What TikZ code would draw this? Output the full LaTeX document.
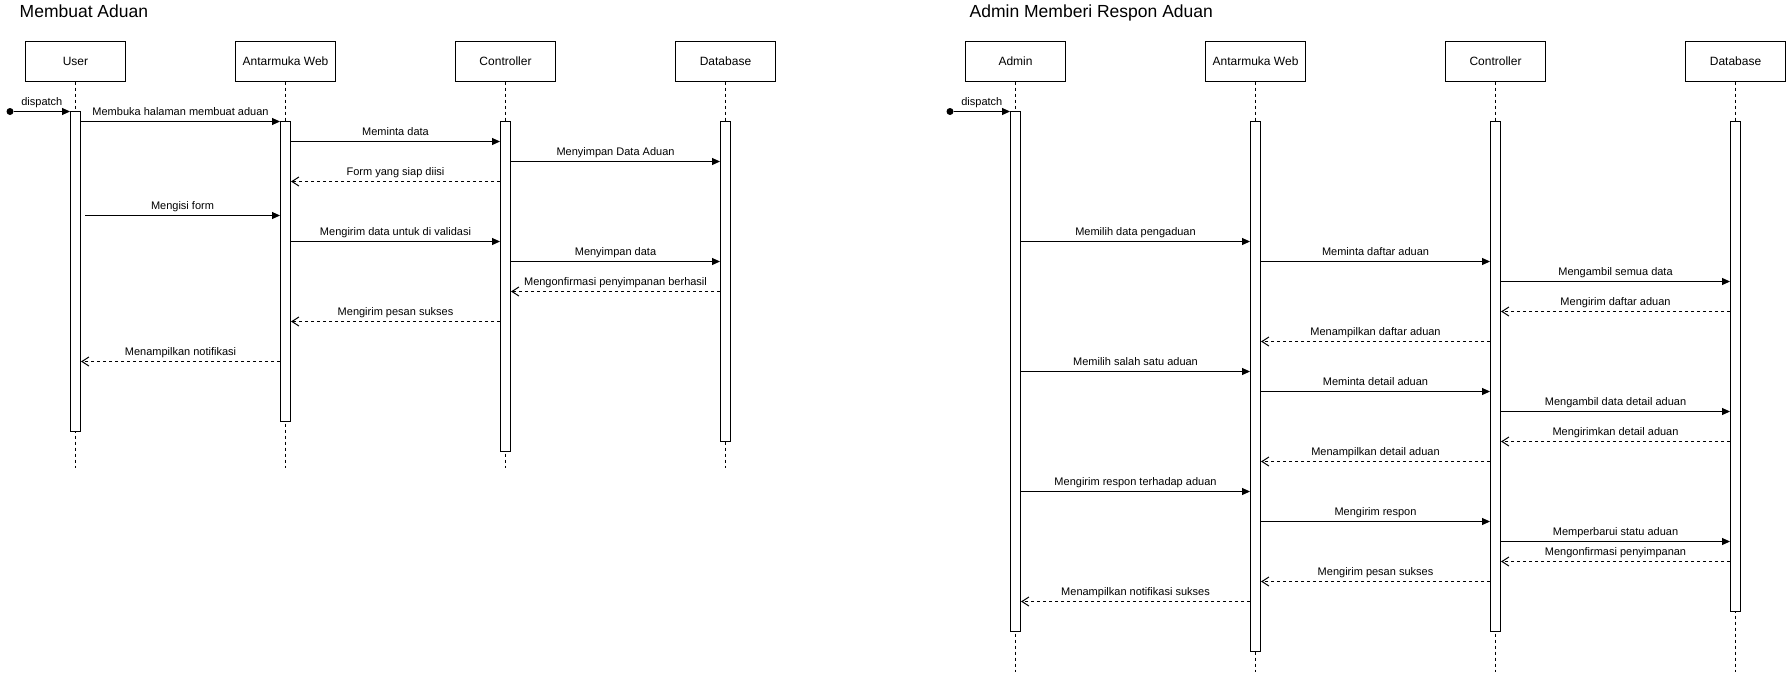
\documentclass[tikz,border=0pt]{standalone}
\usepackage{fontspec}
\setmainfont{Liberation Sans}
\usetikzlibrary{arrows.meta,positioning}
\tikzset{lifebox/.style={draw,line width=1pt,minimum width=100pt,minimum height=40pt,inner sep=0pt,font=\fontsize{12}{14}\selectfont}}
\tikzset{act/.style={draw,fill=white,line width=1pt,minimum width=10pt,inner sep=0pt,anchor=north}}
\tikzset{life/.style={draw,line width=1pt,dash pattern=on 3pt off 3pt}}
\tikzset{call/.style={draw,line width=1pt,-{Triangle[length=8pt,width=7pt]}}}
\tikzset{reply/.style={draw,line width=1pt,dash pattern=on 3pt off 3pt,-{Straight Barb[length=7pt,width=9pt]}}}
\tikzset{lbl/.style={midway,anchor=base,yshift=6pt,inner sep=0pt,font=\fontsize{11}{13}\selectfont}}
\tikzset{dot/.style={circle,fill,inner sep=0pt,minimum size=7pt}}
\tikzset{title/.style={anchor=base west,inner sep=0pt,font=\fontsize{17.5}{20}\selectfont}}

\begin{document}
\begin{tikzpicture}[x=1pt,y=-1pt]
    \useasboundingbox (0,0) rectangle (1787,672);

    % Membuat Aduan
    \node[title] (t1) at (19.5,17.5) {Membuat Aduan};
    \node[lifebox] at (75.5,61) (user) {User};
    \node[lifebox,right of=user,node distance=210pt] (web1) {Antarmuka Web};
    \node[lifebox,right of=web1,node distance=220pt] (ctrl1) {Controller};
    \node[lifebox,right of=ctrl1,node distance=220pt] (db1) {Database};

    \coordinate (userEnd) at (user |- 0,468);
    \coordinate (web1End) at (web1 |- 0,468);
    \coordinate (ctrl1End) at (ctrl1 |- 0,468);
    \coordinate (db1End) at (db1 |- 0,468);
        \path[life] (user) -- (userEnd);
        \path[life] (web1) -- (web1End);
        \path[life] (ctrl1) -- (ctrl1End);
        \path[life] (db1) -- (db1End);

    \node[act,minimum height=320pt] (userAct) at (user |- 0,111) {};
    \node[act,minimum height=300pt] (web1Act) at (web1 |- 0,121) {};
    \node[act,minimum height=330pt] (ctrl1Act) at (ctrl1 |- 0,121) {};
    \node[act,minimum height=320pt] (db1Act) at (db1 |- 0,121) {};

    \node[dot] (d1) at (10,111.5) {};
    \coordinate (formStart) at (85,215.5);

        \path[call] (d1) -- node[lbl] {dispatch} (d1 -| userAct.west);
        \path[call] (userAct.east |- 0,121.5) -- node[lbl] {Membuka halaman membuat aduan} (web1Act.west |- 0,121.5);
        \path[call] (web1Act.east |- 0,141.5) -- node[lbl] {Meminta data} (ctrl1Act.west |- 0,141.5);
        \path[call] (ctrl1Act.east |- 0,161.5) -- node[lbl] {Menyimpan Data Aduan} (db1Act.west |- 0,161.5);
        \path[reply] (ctrl1Act.west |- 0,181.5) -- node[lbl] {Form yang siap diisi} (web1Act.east |- 0,181.5);
        \path[call] (formStart) -- node[lbl] {Mengisi form} (formStart -| web1Act.west);
        \path[call] (web1Act.east |- 0,241.5) -- node[lbl] {Mengirim data untuk di validasi} (ctrl1Act.west |- 0,241.5);
        \path[call] (ctrl1Act.east |- 0,261.5) -- node[lbl] {Menyimpan data} (db1Act.west |- 0,261.5);
        \path[reply] (db1Act.west |- 0,291.5) -- node[lbl] {Mengonfirmasi penyimpanan berhasil} (ctrl1Act.east |- 0,291.5);
        \path[reply] (ctrl1Act.west |- 0,321.5) -- node[lbl] {Mengirim pesan sukses} (web1Act.east |- 0,321.5);
        \path[reply] (web1Act.west |- 0,361.5) -- node[lbl] {Menampilkan notifikasi} (userAct.east |- 0,361.5);

    % Admin Memberi Respon Aduan
    \node[title] (t2) at (969.5,17.5) {Admin Memberi Respon Aduan};
    \node[lifebox] at (1015.5,61) (admin) {Admin};
    \node[lifebox,right of=admin,node distance=240pt] (web2) {Antarmuka Web};
    \node[lifebox,right of=web2,node distance=240pt] (ctrl2) {Controller};
    \node[lifebox,right of=ctrl2,node distance=240pt] (db2) {Database};

    \coordinate (adminEnd) at (admin |- 0,672);
    \coordinate (web2End) at (web2 |- 0,672);
    \coordinate (ctrl2End) at (ctrl2 |- 0,672);
    \coordinate (db2End) at (db2 |- 0,672);
        \path[life] (admin) -- (adminEnd);
        \path[life] (web2) -- (web2End);
        \path[life] (ctrl2) -- (ctrl2End);
        \path[life] (db2) -- (db2End);

    \node[act,minimum height=520pt] (adminAct) at (admin |- 0,111) {};
    \node[act,minimum height=530pt] (web2Act) at (web2 |- 0,121) {};
    \node[act,minimum height=510pt] (ctrl2Act) at (ctrl2 |- 0,121) {};
    \node[act,minimum height=490pt] (db2Act) at (db2 |- 0,121) {};

    \node[dot] (d2) at (950,111.5) {};

        \path[call] (d2) -- node[lbl] {dispatch} (d2 -| adminAct.west);
        \path[call] (adminAct.east |- 0,241.5) -- node[lbl] {Memilih data pengaduan} (web2Act.west |- 0,241.5);
        \path[call] (web2Act.east |- 0,261.5) -- node[lbl] {Meminta daftar aduan} (ctrl2Act.west |- 0,261.5);
        \path[call] (ctrl2Act.east |- 0,281.5) -- node[lbl] {Mengambil semua data} (db2Act.west |- 0,281.5);
        \path[reply] (db2Act.west |- 0,311.5) -- node[lbl] {Mengirim daftar aduan} (ctrl2Act.east |- 0,311.5);
        \path[reply] (ctrl2Act.west |- 0,341.5) -- node[lbl] {Menampilkan daftar aduan} (web2Act.east |- 0,341.5);
        \path[call] (adminAct.east |- 0,371.5) -- node[lbl] {Memilih salah satu aduan} (web2Act.west |- 0,371.5);
        \path[call] (web2Act.east |- 0,391.5) -- node[lbl] {Meminta detail aduan} (ctrl2Act.west |- 0,391.5);
        \path[call] (ctrl2Act.east |- 0,411.5) -- node[lbl] {Mengambil data detail aduan} (db2Act.west |- 0,411.5);
        \path[reply] (db2Act.west |- 0,441.5) -- node[lbl] {Mengirimkan detail aduan} (ctrl2Act.east |- 0,441.5);
        \path[reply] (ctrl2Act.west |- 0,461.5) -- node[lbl] {Menampilkan detail aduan} (web2Act.east |- 0,461.5);
        \path[call] (adminAct.east |- 0,491.5) -- node[lbl] {Mengirim respon terhadap aduan} (web2Act.west |- 0,491.5);
        \path[call] (web2Act.east |- 0,521.5) -- node[lbl] {Mengirim respon} (ctrl2Act.west |- 0,521.5);
        \path[call] (ctrl2Act.east |- 0,541.5) -- node[lbl] {Memperbarui statu aduan} (db2Act.west |- 0,541.5);
        \path[reply] (db2Act.west |- 0,561.5) -- node[lbl] {Mengonfirmasi penyimpanan} (ctrl2Act.east |- 0,561.5);
        \path[reply] (ctrl2Act.west |- 0,581.5) -- node[lbl] {Mengirim pesan sukses} (web2Act.east |- 0,581.5);
        \path[reply] (web2Act.west |- 0,601.5) -- node[lbl] {Menampilkan notifikasi sukses} (adminAct.east |- 0,601.5);
\end{tikzpicture}
\end{document}
